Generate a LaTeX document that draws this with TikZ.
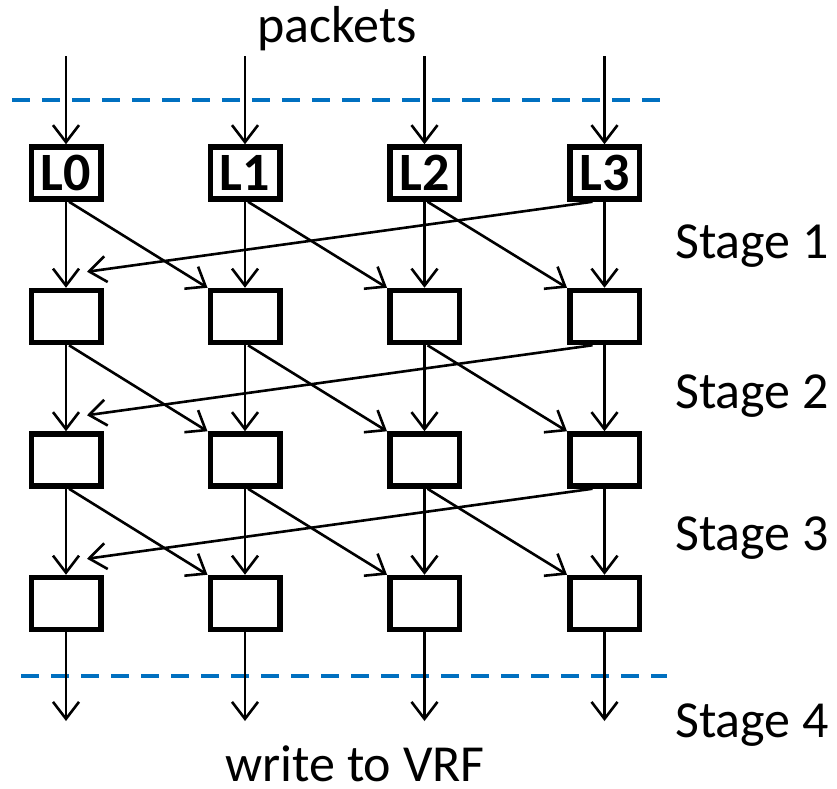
\documentclass[tikz,border=0pt]{standalone}
\usepackage{fontspec}
\setmainfont{Carlito}
\usetikzlibrary{arrows.meta,calc}

\definecolor{stageblue}{HTML}{0070C0}

\tikzset{
  lanebox/.style={draw=black, line width=5.5pt, fill=white, minimum width=69.5pt,
    minimum height=52pt, inner sep=0pt, font=\fontsize{54}{64}\selectfont\bfseries},
  flow/.style={draw=black, line width=2.6pt,
    -{Straight Barb[length=17pt,width=26pt]}},
  stagedash/.style={draw=stageblue, line width=4.5pt, dash pattern=on 18pt off 12pt},
  caption/.style={font=\fontsize{52}{62}\selectfont, inner sep=0pt, anchor=base},
  stagelabel/.style={font=\fontsize{52}{62}\selectfont, inner sep=0pt, anchor=base west},
}

\begin{document}
\begin{tikzpicture}[x=1pt, y=-1pt]
\useasboundingbox (0,0) rectangle (837,788);

% stage boundaries
\coordinate (dtl) at (12,100);   \coordinate (dtr) at (662,100);
\coordinate (dbl) at (21,676);   \coordinate (dbr) at (667,676);
\draw[stagedash] (dtl) -- (dtr);
\draw[stagedash] (dbl) -- (dbr);

% lane boxes: row 0 holds the load units, rows 1-3 the shuffle stages
\foreach \c/\x in {0/66,1/245,2/424.5,3/604.5} {
  \node[lanebox] (b0\c) at (\x,173) {L\c};
  \foreach \r/\y in {1/316.5,2/460,3/603.5}
    \node[lanebox] (b\r\c) at (\x,\y) {};
  \coordinate (in\c) at (\x,56);
  \coordinate (out\c) at (\x,721);
  \draw[flow] (in\c) -- (b0\c.north);
  \draw[flow] (b3\c.south) -- (out\c);
}

% connections between consecutive rows
\foreach \r [evaluate=\r as \n using int(\r+1)] in {0,1,2} {
  \foreach \c in {0,1,2,3}
    \draw[flow] (b\r\c.south) -- (b\n\c.north);
  \foreach \c [evaluate=\c as \d using int(\c+1)] in {0,1,2}
    \draw[flow] ($(b\r\c.south)+(3,0)$) -- (b\n\d.north west);
  \coordinate (w\n) at ($(b\n0.north)+(21,-16)$);
  \draw[flow] ($(b\r3.south)+(-12,0)$) -- (w\n);
}

% labels
\node[caption] (pk) at (337,42) {packets};
\node[caption] (vrf) at (355,781) {write to VRF};
\node[stagelabel] (s1) at (675,258) {Stage 1};
\node[stagelabel] (s2) at (675,408) {Stage 2};
\node[stagelabel] (s3) at (675,550) {Stage 3};
\node[stagelabel] (s4) at (675,737) {Stage 4};
\end{tikzpicture}
\end{document}
